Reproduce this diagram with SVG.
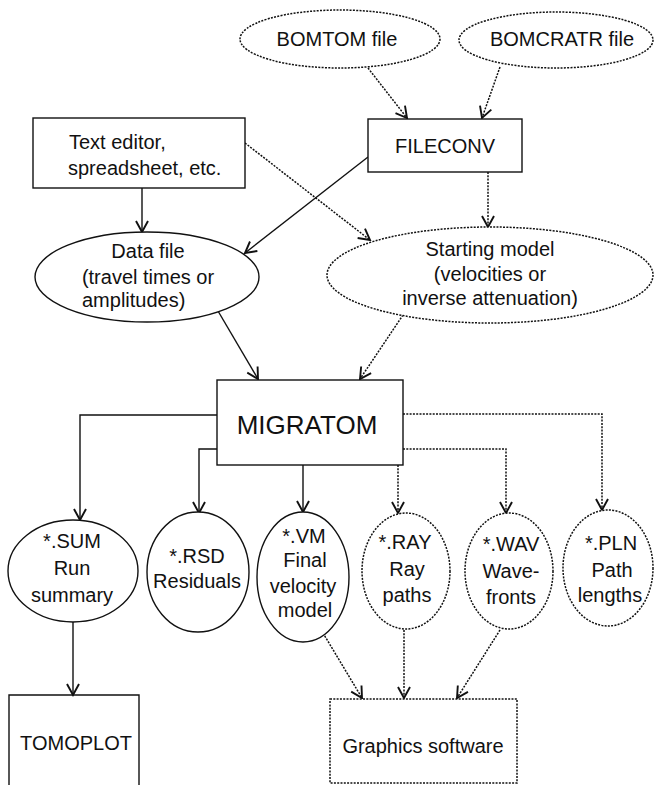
<svg xmlns="http://www.w3.org/2000/svg" width="655" height="785" viewBox="0 0 655 785">
<style>
  .s { fill: none; stroke: #111; stroke-width: 1.4; }
  .d { fill: none; stroke: #111; stroke-width: 1.5; stroke-dasharray: 2 1.3; }
  .n { fill: #fff; }
  text { font-family: "Liberation Sans", Arial, sans-serif; font-size: 20px; fill: #111; text-anchor: middle; }
  .big { font-size: 26px; }
  .l { text-anchor: start; }
</style>
<defs>
  <marker id="a" markerUnits="userSpaceOnUse" viewBox="-12 -8 14 16" refX="0" refY="0" markerWidth="14" markerHeight="16" orient="auto">
    <path d="M-11,-6 L0,0 L-11,6" fill="none" stroke="#111" stroke-width="1.9"/>
  </marker>
</defs>

<g id="connectors">
  <line class="d" x1="368" y1="68" x2="407" y2="118" marker-end="url(#a)"/>
  <line class="d" x1="500" y1="67" x2="482" y2="118" marker-end="url(#a)"/>
  <line class="s" x1="142" y1="188" x2="142" y2="232" marker-end="url(#a)"/>
  <line class="d" x1="245" y1="143" x2="370" y2="240" marker-end="url(#a)"/>
  <line class="s" x1="368" y1="157" x2="245" y2="253" marker-end="url(#a)"/>
  <line class="d" x1="488" y1="172" x2="488" y2="227" marker-end="url(#a)"/>
  <line class="s" x1="218" y1="311" x2="258" y2="379" marker-end="url(#a)"/>
  <line class="d" x1="403" y1="315" x2="360" y2="379" marker-end="url(#a)"/>
  <path class="s" d="M217,415 H80 V520" marker-end="url(#a)"/>
  <path class="s" d="M217,449 H199 V513" marker-end="url(#a)"/>
  <path class="s" d="M303,465 V512" marker-end="url(#a)"/>
  <path class="d" d="M398,465 V513" marker-end="url(#a)"/>
  <path class="d" d="M403,449 H506 V513" marker-end="url(#a)"/>
  <path class="d" d="M403,414 H602 V510" marker-end="url(#a)"/>
  <line class="s" x1="73" y1="622" x2="73" y2="695" marker-end="url(#a)"/>
  <line class="d" x1="323" y1="633" x2="362" y2="698" marker-end="url(#a)"/>
  <line class="d" x1="404" y1="630" x2="404" y2="698" marker-end="url(#a)"/>
  <line class="d" x1="500" y1="630" x2="457" y2="698" marker-end="url(#a)"/>
</g>

<g id="bomtom">
  <ellipse class="d n" cx="340" cy="39" rx="100" ry="29"/>
  <text x="337" y="46">BOMTOM file</text>
</g>
<g id="bomcratr">
  <ellipse class="d n" cx="556" cy="40" rx="97" ry="28"/>
  <text x="562" y="46">BOMCRATR file</text>
</g>
<g id="texteditor">
  <rect class="s n" x="33" y="118" width="212" height="70"/>
  <text class="l" x="69" y="149">Text editor,</text>
  <text class="l" x="68" y="175">spreadsheet, etc.</text>
</g>
<g id="fileconv">
  <rect class="s n" x="368" y="119" width="154" height="53"/>
  <text x="445" y="153">FILECONV</text>
</g>
<g id="datafile">
  <ellipse class="s n" cx="147" cy="277" rx="112" ry="45"/>
  <text x="148" y="258">Data file</text>
  <text x="148" y="284">(travel times or</text>
  <text class="l" x="82" y="307">amplitudes)</text>
</g>
<g id="startingmodel">
  <ellipse class="d n" cx="490" cy="275" rx="163" ry="48"/>
  <text x="490" y="256">Starting model</text>
  <text x="490" y="281">(velocities or</text>
  <text x="490" y="305">inverse attenuation)</text>
</g>
<g id="migratom">
  <rect class="s n" x="217" y="380" width="186" height="85"/>
  <text class="big" x="307" y="434">MIGRATOM</text>
</g>
<g id="sum">
  <ellipse class="s n" cx="73" cy="571" rx="65" ry="51"/>
  <text x="72" y="548">*.SUM</text>
  <text x="72" y="575">Run</text>
  <text x="72" y="602">summary</text>
</g>
<g id="rsd">
  <ellipse class="s n" cx="198" cy="572" rx="51" ry="60"/>
  <text x="197" y="563">*.RSD</text>
  <text x="197" y="588">Residuals</text>
</g>
<g id="vm">
  <ellipse class="s n" cx="303" cy="577" rx="46" ry="65"/>
  <text x="304" y="543">*.VM</text>
  <text x="305" y="567">Final</text>
  <text x="303" y="593">velocity</text>
  <text x="305" y="617">model</text>
</g>
<g id="ray">
  <ellipse class="d n" cx="406" cy="571" rx="44" ry="58"/>
  <text x="405" y="549">*.RAY</text>
  <text x="407" y="576">Ray</text>
  <text x="407" y="602">paths</text>
</g>
<g id="wav">
  <ellipse class="d n" cx="509" cy="571" rx="44" ry="58"/>
  <text x="511" y="551">*.WAV</text>
  <text x="511" y="578">Wave-</text>
  <text x="511" y="604">fronts</text>
</g>
<g id="pln">
  <ellipse class="d n" cx="608" cy="568" rx="45" ry="58"/>
  <text x="611" y="550">*.PLN</text>
  <text x="612" y="577">Path</text>
  <text x="610" y="602">lengths</text>
</g>
<g id="tomoplot">
  <path class="s" d="M9,790 V695 H139 V790"/>
  <text x="76" y="750">TOMOPLOT</text>
</g>
<g id="graphics">
  <rect class="d n" x="330" y="699" width="187" height="84"/>
  <text x="423" y="753">Graphics software</text>
</g>
</svg>
